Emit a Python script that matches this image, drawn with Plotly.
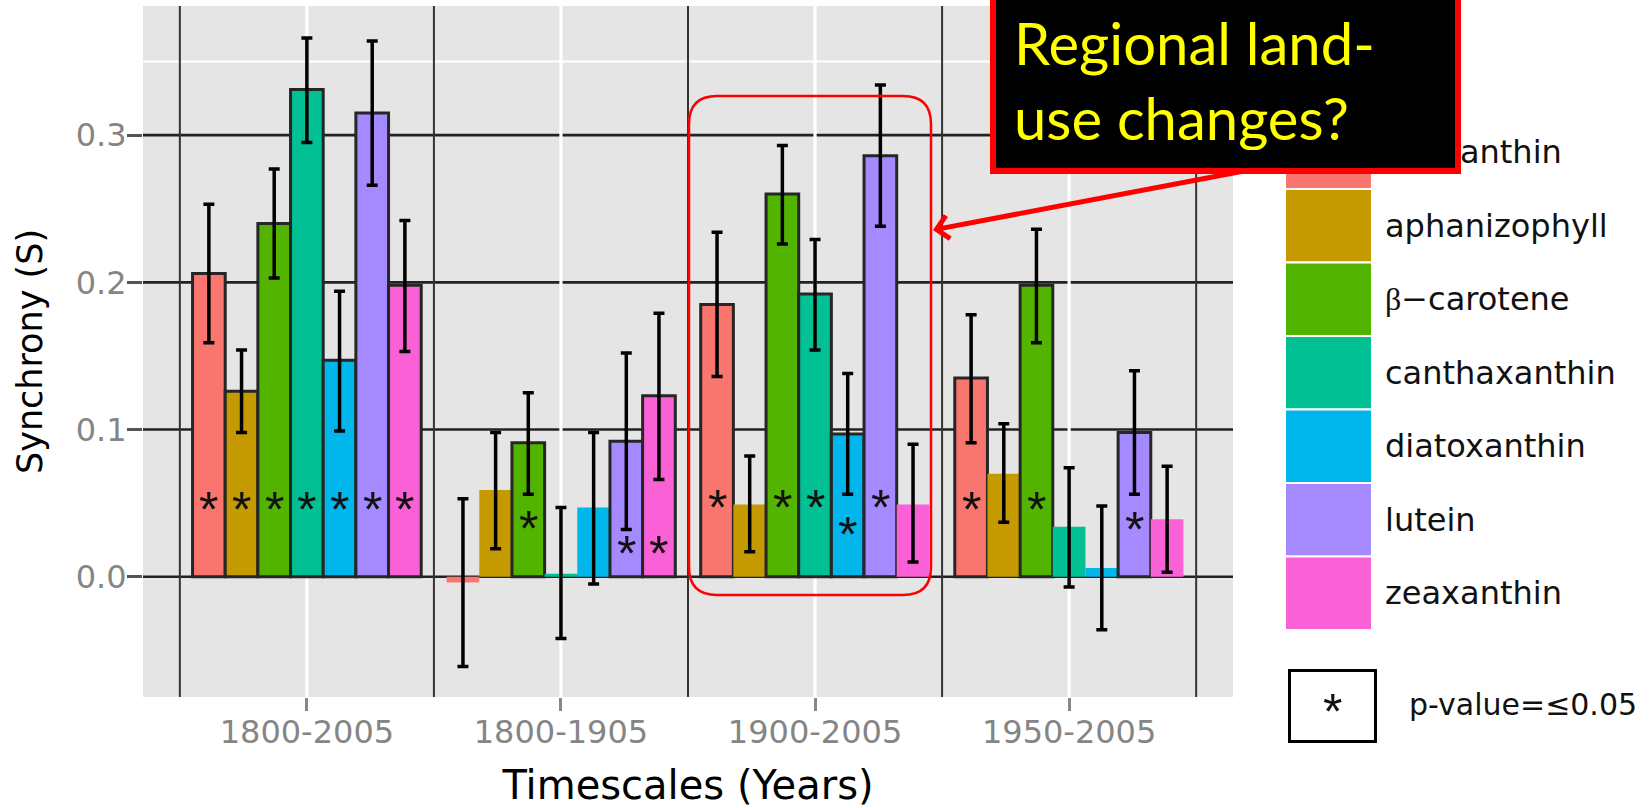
import plotly.graph_objects as go

# ---------------- data ----------------
categories = ["1800-2005", "1800-1905", "1900-2005", "1950-2005"]
pigments = ["alloxanthin", "aphanizophyll", "β−carotene", "canthaxanthin",
            "diatoxanthin", "lutein", "zeaxanthin"]
pigment_colors = ["#F8766D", "#C49A00", "#53B400", "#00C094",
                  "#00B6EB", "#A58AFF", "#FB61D7"]

# rows = pigments, columns = timescales
synchrony = [
    [0.206, -0.004, 0.185, 0.135],
    [0.126, 0.059, 0.049, 0.070],
    [0.240, 0.091, 0.260, 0.198],
    [0.331, 0.002, 0.192, 0.034],
    [0.147, 0.047, 0.097, 0.006],
    [0.315, 0.092, 0.286, 0.098],
    [0.198, 0.123, 0.049, 0.039],
]
ci_low = [
    [0.159, -0.061, 0.136, 0.091],
    [0.098, 0.019, 0.017, 0.037],
    [0.203, 0.056, 0.226, 0.159],
    [0.295, -0.042, 0.154, -0.007],
    [0.099, -0.005, 0.056, -0.036],
    [0.266, 0.032, 0.238, 0.056],
    [0.153, 0.066, 0.010, 0.003],
]
ci_high = [
    [0.253, 0.053, 0.234, 0.178],
    [0.154, 0.098, 0.082, 0.104],
    [0.277, 0.125, 0.293, 0.236],
    [0.366, 0.047, 0.229, 0.074],
    [0.194, 0.098, 0.138, 0.048],
    [0.364, 0.152, 0.334, 0.140],
    [0.242, 0.179, 0.090, 0.075],
]
# y position of the significance asterisk (None = not significant)
star_y = [
    [0.049, None, 0.050, 0.049],
    [0.049, None, None, None],
    [0.049, 0.036, 0.050, 0.049],
    [0.049, None, 0.050, None],
    [0.049, None, 0.032, None],
    [0.049, 0.019, 0.050, 0.035],
    [0.049, 0.019, None, None],
]
y_ticks = [0.0, 0.1, 0.2, 0.3]
y_ticktext = ["0.0", "0.1", "0.2", "0.3"]
minor_grid_y = [0.35]
callout_text = "Regional land-<br>use changes?"
pvalue_label = "p-value=≤0.05"

# ---------------- layout geometry ----------------
W, H = 1652, 808
L, R, T, B = 143, 419, 6, 111
PW, PH = W - L - R, H - T - B
X_RANGE = [-0.645, 3.645]
Y_RANGE = [-0.0817, 0.3877]
FONT = "DejaVu Sans"
STAR_FONT = dict(family="Liberation Sans", size=50, color="#111111")
STAR_SHIFT = -5


def fx(px):
    return (px - L) / PW


def fy(py):
    return (H - B - py) / PH


n = len(pigments)
bar_w = 0.9 / n

fig = go.Figure()
annotations = []

for j, name in enumerate(pigments):
    xs = [i + (j - (n - 1) / 2) * bar_w for i in range(len(categories))]
    vals = synchrony[j]
    lw = [3 if s is not None else 0 for s in star_y[j]]
    fig.add_trace(go.Bar(
        x=xs, y=vals, width=bar_w, name=name, showlegend=False,
        marker=dict(color=pigment_colors[j], line=dict(color="#262626", width=lw)),
        error_y=dict(type="data", symmetric=False,
                     array=[h - v for h, v in zip(ci_high[j], vals)],
                     arrayminus=[v - l for v, l in zip(vals, ci_low[j])],
                     color="#000000", thickness=3.5, width=5.5),
    ))
    for x, s in zip(xs, star_y[j]):
        if s is not None:
            annotations.append(dict(x=x, y=s, xref="x", yref="y", text="*",
                                    showarrow=False, xanchor="center", yanchor="middle",
                                    yshift=STAR_SHIFT, font=STAR_FONT))

# ---------------- panel lines ----------------
shapes = []
for t in y_ticks:
    shapes.append(dict(type="line", xref="paper", yref="y", x0=0, x1=1, y0=t, y1=t,
                       line=dict(color="#222222", width=2.7), layer="below"))
for t in minor_grid_y:
    shapes.append(dict(type="line", xref="paper", yref="y", x0=0, x1=1, y0=t, y1=t,
                       line=dict(color="#ffffff", width=2), layer="below"))
for i in range(len(categories)):
    shapes.append(dict(type="line", xref="x", yref="paper", x0=i, x1=i, y0=0, y1=1,
                       line=dict(color="#ffffff", width=3.2), layer="below"))
for i in range(len(categories) + 1):
    shapes.append(dict(type="line", xref="x", yref="paper", x0=i - 0.5, x1=i - 0.5, y0=0, y1=1,
                       line=dict(color="#333333", width=2), layer="below"))


# rounded highlight rectangle around the 1900-2005 group
def rrect(x0, y0, x1, y1, r):
    def P(x, y):
        return f"{fx(x):.5f},{fy(y):.5f}"
    pts = ["M" + P(x0 + r, y0),
           "L" + P(x1 - r, y0),
           "Q" + P(x1, y0) + " " + P(x1, y0 + r),
           "L" + P(x1, y1 - r),
           "Q" + P(x1, y1) + " " + P(x1 - r, y1),
           "L" + P(x0 + r, y1),
           "Q" + P(x0, y1) + " " + P(x0, y1 - r),
           "L" + P(x0, y0 + r),
           "Q" + P(x0, y0) + " " + P(x0 + r, y0)]
    return " ".join(pts) + " Z"


shapes.append(dict(type="path", xref="paper", yref="paper", path=rrect(689, 96, 931, 595, 28),
                   line=dict(color="#ff0000", width=2.5), layer="above"))

# ---------------- legend (ggplot style) ----------------
key_x0, key_x1 = 1285, 1372
key_top, key_h = 115.5, 73.5
LEG_FONT = dict(family=FONT, size=32, color="#111111")
for k, (name, col) in enumerate(zip(pigments, pigment_colors)):
    y0 = key_top + k * key_h
    shapes.append(dict(type="rect", xref="paper", yref="paper",
                       x0=fx(key_x0), x1=fx(key_x1), y0=fy(y0), y1=fy(y0 + key_h),
                       fillcolor=col, line=dict(color="#ffffff", width=2), layer="above"))
    label = name
    if name.startswith("β"):
        label = "<span style=\"font-family:Liberation Serif\">β</span>" + name[1:]
    annotations.append(dict(x=fx(1383), y=fy(y0 + key_h / 2), xref="paper", yref="paper",
                            text=label, showarrow=False, xanchor="left", yanchor="middle",
                            font=LEG_FONT))

shapes.append(dict(type="rect", xref="paper", yref="paper",
                   x0=fx(1289.5), x1=fx(1375.5), y0=fy(670.5), y1=fy(741.5),
                   fillcolor="#ffffff", line=dict(color="#000000", width=3), layer="above"))
annotations.append(dict(x=fx(1332), y=fy(707), xref="paper", yref="paper", text="*",
                        showarrow=False, xanchor="center", yanchor="middle",
                        yshift=STAR_SHIFT, font=STAR_FONT))
annotations.append(dict(x=fx(1407), y=fy(705), xref="paper", yref="paper", text=pvalue_label,
                        showarrow=False, xanchor="left", yanchor="middle",
                        font=dict(family=FONT, size=30, color="#111111")))

# ---------------- callout ----------------
annotations.insert(0, dict(x=fx(933), y=fy(230), xref="paper", yref="paper", text="",
                           showarrow=True, ax=327, ay=-62, arrowhead=4, arrowsize=0.9,
                           arrowwidth=5, arrowcolor="#ff0000", standoff=0))
annotations.append(dict(x=fx(990), y=fy(174), xref="paper", yref="paper",
                        text=callout_text, showarrow=False, xanchor="left", yanchor="bottom",
                        align="left", valign="top", width=423, height=142,
                        bgcolor="#000000", bordercolor="#ff0000", borderwidth=6, borderpad=18,
                        font=dict(family="Lato", size=58, color="#ffff00")))

fig.update_layout(
    width=W, height=H,
    margin=dict(l=L, r=R, t=T, b=B, autoexpand=False),
    paper_bgcolor="#ffffff", plot_bgcolor="#e5e5e5",
    barmode="overlay", showlegend=False,
    shapes=shapes, annotations=annotations,
    xaxis=dict(range=X_RANGE, tickvals=list(range(len(categories))), ticktext=categories,
               showgrid=False, zeroline=False, showline=False,
               ticks="outside", ticklen=13, tickwidth=3, tickcolor="#888888",
               ticklabelstandoff=-6,
               tickfont=dict(family=FONT, size=32, color="#858585"),
               title=dict(text="Timescales (Years)", standoff=40,
                          font=dict(family=FONT, size=40, color="#000000"))),
    yaxis=dict(range=Y_RANGE, tickvals=y_ticks, ticktext=y_ticktext,
               showgrid=False, zeroline=False, showline=False,
               ticks="outside", ticklen=15, tickwidth=3, tickcolor="#555555",
               ticklabelstandoff=-6,
               tickfont=dict(family=FONT, size=32, color="#858585"),
               title=dict(text="Synchrony (S)", standoff=22,
                          font=dict(family=FONT, size=35, color="#000000"))),
)

fig.write_html("out.html")
